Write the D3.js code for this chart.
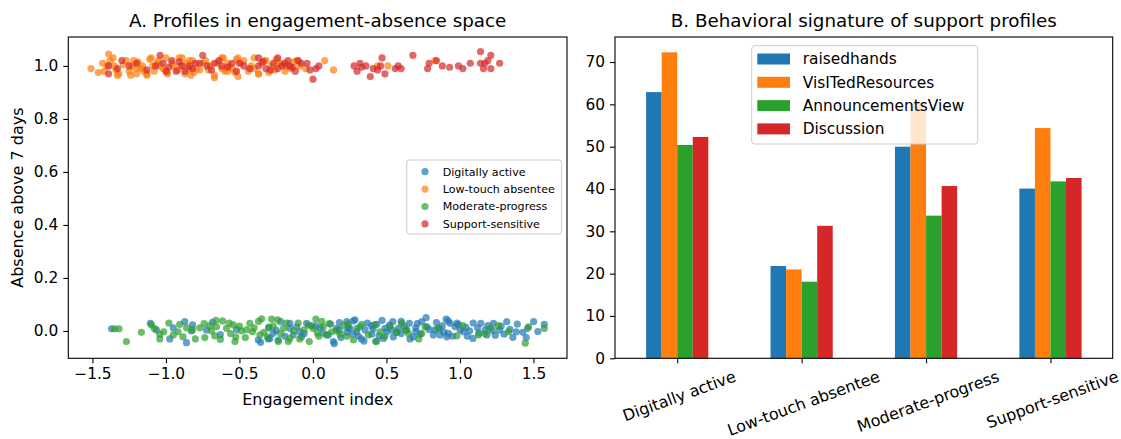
<!DOCTYPE html>
<html>
<head>
<meta charset="utf-8">
<script src="https://cdn.jsdelivr.net/npm/d3@7/dist/d3.min.js"></script>
<style>
  html, body { margin: 0; padding: 0; background: #fff; }
  svg { display: block; font-family: "DejaVu Sans", sans-serif; }
</style>
</head>
<body>
<svg id="chart" width="1121" height="439"></svg>
<script>
// ---------- Panel A: engagement index vs. absence (jittered 0/1) ----------
const profileNames = ["Digitally active", "Low-touch absentee", "Moderate-progress", "Support-sensitive"];

const digitallyActive = [
  [-1.37,0.008],[-1.106,0.029],[-1.065,0.004],[-0.974,-0.030],[-0.872,0.035],[-0.826,0.000],
  [-0.860,-0.044],[-0.819,0.023],[-0.724,0.004],[-0.683,0.033],[-0.356,-0.043],[-0.304,-0.030],
  [-0.270,-0.009],[-0.220,0.035],[-0.236,-0.034],[-0.157,0.029],[-0.157,0.010],[-0.134,-0.015],
  [-0.089,-0.003],[-0.043,0.029],[0.104,-0.015],[0.145,-0.048],[0.179,0.004],[0.230,0.035],
  [0.275,0.038],[0.252,0.010],[0.298,-0.003],[0.347,-0.038],[0.400,-0.012],[0.434,0.025],
  [0.490,0.010],[0.543,0.035],[0.581,0.010],[0.638,0.004],[0.656,0.029],[0.683,-0.022],
  [0.740,0.035],[0.770,0.050],[0.775,0.016],[0.831,0.004],[0.865,-0.015],[0.906,0.045],
  [0.933,0.029],[0.967,0.016],[0.922,-0.009],[1.001,0.004],[1.024,-0.003],[1.065,0.000],
  [1.088,-0.028],[1.142,0.029],[1.172,0.004],[1.228,0.029],[1.269,0.004],[1.319,0.035],
  [1.383,-0.003],[1.428,-0.005],[1.451,-0.025],[1.501,0.035],[1.574,0.025],[1.183,-0.015],
  [0.911,-0.022],[0.819,-0.015],[0.547,-0.022],[0.502,-0.003],[0.320,0.016],[0.230,-0.005],
  [0.161,0.010],[-0.372,-0.034],[-0.293,-0.028],[-0.078,-0.022],[0.139,-0.040],[0.286,0.042],
  [0.355,0.004],[0.427,-0.040],[0.479,-0.028],[0.536,0.004],[0.050,0.012],[-0.010,0.020],
  [0.700,0.012],[0.600,-0.010],[1.120,0.012],[1.300,-0.012],[0.980,0.030],[0.880,0.020],
  [0.02,0.018],[0.07,-0.008],[0.12,0.026],[0.19,-0.025],[0.24,0.012],[0.31,-0.020],
  [0.37,0.030],[0.41,0.008],[0.45,-0.018],[0.52,0.022],[0.57,-0.006],[0.62,0.018],
  [0.66,-0.030],[0.71,0.028],[0.73,-0.012],[0.79,0.006],[0.84,0.032],[0.89,-0.004],
  [0.95,-0.020],[0.99,0.024],[1.04,0.014],[1.09,0.030],[1.13,-0.008],[1.19,0.020],
  [1.24,-0.016],[1.28,0.018],[1.34,0.006],[1.39,0.026],[1.46,0.010],[1.53,-0.002],
  [-0.30,0.012],[-0.25,0.002],[-0.19,-0.020],[-0.11,0.016],[-0.06,-0.010],[-0.52,0.006],
  [-0.63,-0.014],[-0.95,0.012],[0.33,-0.030],[0.60,0.036],[0.86,0.010],[1.05,-0.020],
  [1.22,0.002],[0.18,0.032],[0.47,0.040],[0.70,-0.002],[0.92,0.038],[1.36,-0.024],
  [0.27,-0.012],[0.40,0.020]
];

const lowTouchAbsentee = [
  [-1.51,0.99],[-1.43,1.01],[-1.39,1.045],[-1.42,0.98],[-1.36,1.03],[-1.35,1.00],[-1.32,0.97],
  [-1.27,1.02],[-1.25,0.98],[-1.22,1.02],[-1.23,1.00],[-1.17,0.99],[-1.13,0.97],[-1.11,1.025],
  [-1.08,0.98],[-1.04,1.00],[-0.99,0.975],[-0.91,1.03],[-0.90,1.00],[-0.87,0.97],[-0.82,1.02],
  [-0.79,0.99],[-0.70,1.00],[-0.67,0.955],[-0.62,1.03],[-0.60,0.98],[-0.52,1.025],[-0.51,0.96],
  [-0.49,1.01],[-0.44,0.98],[-0.37,0.97],[-0.33,1.02],[-0.28,1.00],[-0.25,1.025],[-0.18,1.00],
  [-0.13,1.015],[-0.09,1.00],[0.08,1.02],[0.14,0.985],[0.51,1.00],[0.83,1.02],[0.44,1.00],
  [-1.33,0.965],[-1.16,1.00],[-1.10,1.03],[-1.13,0.965],[-1.00,1.03],[-0.89,1.03],[-0.99,0.97],
  [-0.83,0.965],[-0.77,0.985],[-0.67,0.965],[-0.61,1.03],[-0.58,1.01],[-0.51,1.03],[-0.58,0.98],
  [-0.37,0.97],[-0.32,1.02],[-0.19,0.98],[-1.40,1.00],[-1.20,0.97],[-0.95,1.00],[-0.75,1.01],
  [-0.55,0.99],[-0.42,1.00],[-0.30,0.975],[-0.22,1.01],[-0.05,0.99],[-1.06,1.01],[-0.85,0.99],
  [-1.46,0.975],[-1.38,1.02],[-1.34,0.985],[-1.29,1.005],[-1.24,0.965],[-1.19,1.015],
  [-1.15,0.98],[-1.09,1.00],[-1.05,1.02],[-1.02,0.99],[-0.96,1.01],[-0.92,0.985],
  [-0.86,1.01],[-0.81,0.975],[-0.73,1.02],[-0.71,0.985],[-0.65,1.01],[-0.57,1.00],
  [-0.53,0.975],[-0.47,1.02],[-0.40,0.99],[-0.35,1.01],[-0.26,0.985],[-0.23,1.01],
  [-0.15,0.99],[-0.11,1.02],[-0.40,1.03],[-0.62,0.99],[-0.84,1.02],[-1.20,0.99]
];

const moderateProgress = [
  [-1.349,0.008],[-1.319,0.008],[-1.269,-0.040],[-1.167,-0.005],[-1.099,0.023],[-1.042,-0.012],
  [-1.042,-0.030],[-1.015,-0.003],[-0.918,-0.003],[-0.906,0.025],[-0.884,-0.022],[-0.770,0.012],
  [-0.736,-0.025],[-0.668,-0.018],[-0.656,0.016],[-0.615,0.038],[-0.588,0.010],[-0.543,0.023],
  [-0.525,-0.022],[-0.486,0.000],[-0.429,0.029],[-0.411,-0.003],[-0.349,0.046],[-0.281,0.045],
  [-0.361,-0.015],[-0.334,-0.005],[-0.236,-0.040],[-0.168,-0.040],[-0.157,-0.028],[-0.061,0.004],
  [-0.025,-0.040],[0.002,0.010],[0.020,0.045],[0.070,0.016],[0.093,-0.015],[0.127,-0.003],
  [0.184,-0.012],[0.275,-0.034],[0.332,0.025],[0.377,-0.015],[0.434,-0.038],[0.456,-0.003],
  [0.525,0.016],[0.604,0.029],[0.570,-0.003],[0.649,-0.009],[0.740,-0.009],[0.763,0.016],
  [0.979,-0.018],[1.126,-0.015],[1.206,0.010],[1.330,-0.003],[1.444,-0.046],[1.467,0.016],
  [1.574,0.010],[-0.450,0.005],[-0.300,0.015],[-0.200,0.010],[-0.100,0.030],[0.040,-0.020],
  [-0.560,-0.010],[-0.700,0.020],[-0.820,0.005],[0.210,0.020],
  [-1.08,0.010],[-0.98,0.030],[-0.95,-0.015],[-0.86,0.012],[-0.80,-0.030],[-0.74,0.028],
  [-0.69,0.000],[-0.63,-0.032],[-0.57,0.030],[-0.50,0.018],[-0.46,-0.025],[-0.40,0.012],
  [-0.37,0.036],[-0.31,-0.022],[-0.27,0.018],[-0.22,-0.010],[-0.18,0.030],[-0.13,0.000],
  [-0.09,-0.030],[-0.03,0.022],[0.03,-0.008],[0.11,0.028],[0.16,0.000],[0.23,-0.020],
  [0.30,0.010],[0.42,0.024],[0.49,-0.020],[0.63,0.004],[0.72,-0.030],[0.85,0.010],
  [1.02,0.020],[1.17,-0.010],[1.26,0.020],[-0.66,0.040],[-0.53,-0.040],[-0.24,0.042],
  [0.06,0.036],[0.24,0.026]
];

const supportSensitive = [
  [-1.39,1.00],[-1.39,0.97],[-1.30,1.02],[-1.20,1.01],[-1.04,1.04],[-1.07,1.00],[-1.00,0.98],
  [-0.96,1.02],[-0.93,0.98],[-0.89,1.00],[-0.87,0.98],[-0.84,1.00],[-0.80,1.01],[-0.77,1.01],
  [-0.75,1.04],[-0.72,1.00],[-0.67,1.01],[-0.62,1.00],[-0.55,1.01],[-0.52,0.98],[-0.47,1.00],
  [-0.37,1.03],[-0.37,1.00],[-0.32,0.99],[-0.27,1.01],[-0.24,1.03],[-0.21,1.00],[-0.24,0.99],
  [-0.17,1.02],[-0.16,1.00],[-0.12,0.98],[-0.08,1.01],[-0.04,1.01],[0.02,0.99],[0.04,1.00],
  [0.00,0.95],[0.28,1.00],[0.32,1.01],[0.30,0.98],[0.36,1.00],[0.39,0.96],[0.41,0.99],
  [0.46,1.00],[0.47,1.03],[0.49,0.97],[0.56,0.99],[0.58,1.00],[0.60,0.99],[0.68,1.04],
  [0.78,0.99],[0.79,1.01],[0.84,1.02],[0.88,1.00],[0.99,1.00],[1.02,0.99],[1.07,1.01],
  [1.14,1.054],[1.21,1.04],[1.14,1.01],[1.17,1.01],[1.16,0.99],[1.21,0.99],[1.27,1.01],
  [-1.33,0.99],[-1.25,1.00],[-1.13,0.985],[-1.02,1.01],[-0.98,0.995],[-0.91,1.015],
  [-0.82,0.99],[-0.69,0.985],[-0.64,1.02],[-0.58,0.995],[-0.50,1.01],[-0.43,0.99],
  [-0.34,1.015],[-0.29,0.985],[-0.19,1.01],[-0.14,0.995],[-0.10,1.02],[-0.02,0.985],
  [0.33,0.995],[0.44,0.985],[0.93,0.995],[1.19,1.02]
];

const profilePoints = [digitallyActive, lowTouchAbsentee, moderateProgress, supportSensitive];
const xTicksA = [-1.5, -1.0, -0.5, 0.0, 0.5, 1.0, 1.5];
const yTicksA = [0.0, 0.2, 0.4, 0.6, 0.8, 1.0];

// ---------- Panel B: mean activity per profile ----------
const featureNames = ["raisedhands", "VisITedResources", "AnnouncementsView", "Discussion"];
const raisedhands       = [62.9, 21.8, 50.0, 40.1];
const visitedResources  = [72.3, 21.0, 60.4, 54.4];
const announcementsView = [50.4, 18.1, 33.7, 41.8];
const discussion        = [52.3, 31.3, 40.7, 42.6];
const featureValues = [raisedhands, visitedResources, announcementsView, discussion];
const yTicksB = [0, 10, 20, 30, 40, 50, 60, 70];

const colors = ["#1f77b4", "#ff7f0e", "#2ca02c", "#d62728"];

// ---------- drawing ----------
const svg = d3.select("#chart");
const TICK_FONT = 15.4, LABEL_FONT = 16, TITLE_FONT = 18.3, CAT_FONT = 15.9;

const A = { x0: 68.3, x1: 567, y0: 37, y1: 358.3 };
const B = { x0: 615, x1: 1112.7, y0: 37, y1: 358.3 };

function padded(ext, frac) {
  const span = ext[1] - ext[0];
  return [ext[0] - span * frac, ext[1] + span * frac];
}
const allPts = profilePoints.flat();
const xA = d3.scaleLinear().domain(padded(d3.extent(allPts, d => d[0]), 0.05)).range([A.x0, A.x1]);
const yA = d3.scaleLinear().domain(padded(d3.extent(allPts, d => d[1]), 0.05)).range([A.y1, A.y0]);

function frame(g, box) {
  g.append("rect").attr("x", box.x0).attr("y", box.y0)
    .attr("width", box.x1 - box.x0).attr("height", box.y1 - box.y0)
    .attr("fill", "none").attr("stroke", "#000").attr("stroke-width", 1.1);
}

function styleAxis(g) {
  g.select(".domain").remove();
  g.selectAll(".tick line").attr("stroke", "#000").attr("stroke-width", 1.1);
  g.selectAll(".tick text").attr("fill", "#000").attr("font-size", TICK_FONT)
    .attr("font-family", "DejaVu Sans, sans-serif");
}

const fmtMinus = d => d3.format(".1f")(d).replace("-", "\u2212");

// Panel A
const gA = svg.append("g");
const pointsLayer = gA.append("g");
profilePoints.forEach((pts, i) => {
  pointsLayer.append("g").selectAll("circle").data(pts).join("circle")
    .attr("cx", d => xA(d[0])).attr("cy", d => yA(d[1])).attr("r", 3.6)
    .attr("fill", colors[i]).attr("fill-opacity", 0.7);
});
gA.append("g").attr("transform", `translate(0,${A.y1})`)
  .call(d3.axisBottom(xA).tickValues(xTicksA).tickFormat(fmtMinus).tickSizeOuter(0).tickSize(5).tickPadding(5))
  .call(styleAxis);
gA.append("g").attr("transform", `translate(${A.x0},0)`)
  .call(d3.axisLeft(yA).tickValues(yTicksA).tickFormat(fmtMinus).tickSizeOuter(0).tickSize(5).tickPadding(5))
  .call(styleAxis);
frame(gA, A);

gA.append("text").attr("x", (A.x0 + A.x1) / 2).attr("y", 27)
  .attr("text-anchor", "middle").attr("font-size", TITLE_FONT)
  .text("A. Profiles in engagement-absence space");
gA.append("text").attr("x", (A.x0 + A.x1) / 2).attr("y", 405)
  .attr("text-anchor", "middle").attr("font-size", LABEL_FONT).text("Engagement index");
gA.append("text").attr("transform", `translate(23,${(A.y0 + A.y1) / 2}) rotate(-90)`)
  .attr("text-anchor", "middle").attr("font-size", LABEL_FONT).text("Absence above 7 days");

// Legend A
const legA = gA.append("g");
legA.append("rect").attr("x", 406.7).attr("y", 160).attr("width", 155).attr("height", 74)
  .attr("rx", 3).attr("fill", "#fff").attr("fill-opacity", 0.8)
  .attr("stroke", "#cccccc").attr("stroke-width", 1);
profileNames.forEach((name, i) => {
  const cy = 171.7 + i * 17.4;
  legA.append("circle").attr("cx", 425).attr("cy", cy).attr("r", 3.6)
    .attr("fill", colors[i]).attr("fill-opacity", 0.7);
  legA.append("text").attr("x", 442.7).attr("y", cy).attr("dy", "0.35em")
    .attr("font-size", 11.1).text(name);
});

// Panel B
const xB = d3.scaleLinear().domain([-0.5, profileNames.length - 0.5]).range([B.x0, B.x1]);
const yB = d3.scaleLinear().domain([0, d3.max(featureValues.flat()) * 1.05]).range([B.y1, B.y0]);
const barW = 0.5 / featureNames.length;

const gB = svg.append("g");
featureValues.forEach((vals, j) => {
  gB.append("g").selectAll("rect").data(vals).join("rect")
    .attr("x", (d, i) => xB(i - 0.25 + j * barW))
    .attr("width", xB(barW) - xB(0))
    .attr("y", d => yB(d))
    .attr("height", d => yB(0) - yB(d))
    .attr("fill", colors[j]);
});
gB.append("g").attr("transform", `translate(0,${B.y1})`)
  .call(d3.axisBottom(xB).tickValues(d3.range(profileNames.length)).tickFormat("").tickSizeOuter(0).tickSize(5))
  .call(styleAxis);
gB.append("g").attr("transform", `translate(${B.x0},0)`)
  .call(d3.axisLeft(yB).tickValues(yTicksB).tickFormat(d3.format("d")).tickSizeOuter(0).tickSize(5).tickPadding(5))
  .call(styleAxis);
frame(gB, B);

// rotated category labels
const angle = 20 * Math.PI / 180;
profileNames.forEach((name, i) => {
  const t = gB.append("text").attr("text-anchor", "middle").attr("dominant-baseline", "central")
    .attr("font-size", CAT_FONT).text(name);
  const w = t.node().getComputedTextLength();
  const h = CAT_FONT;
  const bh = w * Math.sin(angle) + h * Math.cos(angle);
  t.attr("transform", `translate(${xB(i) + 2},${B.y1 + 10 + bh / 2}) rotate(-20)`);
});

gB.append("text").attr("x", (B.x0 + B.x1) / 2).attr("y", 27)
  .attr("text-anchor", "middle").attr("font-size", TITLE_FONT)
  .text("B. Behavioral signature of support profiles");

// Legend B
const legB = gB.append("g");
legB.append("rect").attr("x", 751.7).attr("y", 45.7).attr("width", 226).attr("height", 98.3)
  .attr("rx", 3).attr("fill", "#fff").attr("fill-opacity", 0.8)
  .attr("stroke", "#cccccc").attr("stroke-width", 1);
featureNames.forEach((name, j) => {
  const cy = 59 + j * 23.3;
  legB.append("rect").attr("x", 757.3).attr("y", cy - 5.5).attr("width", 32.7).attr("height", 11)
    .attr("fill", colors[j]);
  legB.append("text").attr("x", 802.7).attr("y", cy).attr("dy", "0.35em")
    .attr("font-size", TICK_FONT).text(name);
});
</script>
</body>
</html>
